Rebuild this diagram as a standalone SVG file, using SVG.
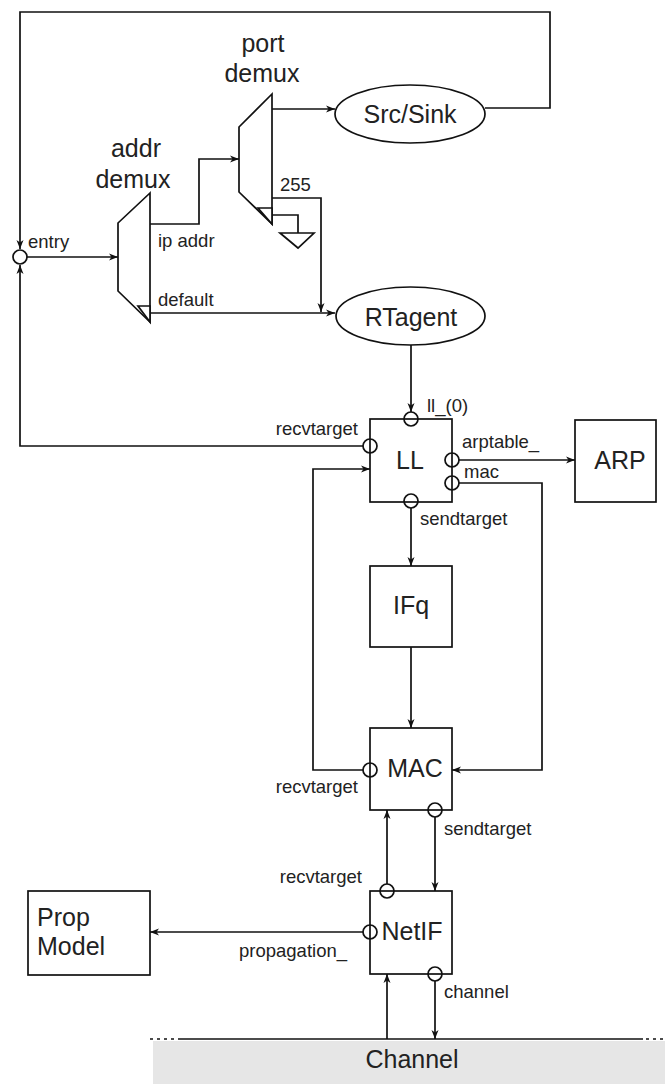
<svg xmlns="http://www.w3.org/2000/svg" width="665" height="1084" viewBox="0 0 665 1084">
<style>
.ln{fill:none;stroke:#111;stroke-width:1.7}
.box{fill:#fff;stroke:#111;stroke-width:1.7}
.port{fill:none;stroke:#111;stroke-width:1.7}
.big{font-family:"Liberation Sans",Arial,sans-serif;font-size:25px;fill:#222}
.sm{font-family:"Liberation Sans",Arial,sans-serif;font-size:18.5px;fill:#222}
.c{text-anchor:middle}
.r{text-anchor:end}
</style>
<defs>
<marker id="ah" markerUnits="userSpaceOnUse" markerWidth="10" markerHeight="8" refX="9" refY="4" orient="auto">
<path d="M0,0.5 L9,4 L0,7.5 L2.5,4 Z" fill="#111"/>
</marker>
</defs>
<rect width="665" height="1084" fill="#fff"/>

<g id="channel">
<rect x="153" y="1041" width="512" height="43" fill="#e6e6e6"/>
<line x1="178" y1="1039" x2="643" y2="1039" class="ln"/>
<line x1="150" y1="1039" x2="176" y2="1039" class="ln" stroke-dasharray="3,4"/>
<line x1="646" y1="1039" x2="665" y2="1039" class="ln" stroke-dasharray="3,4"/>
<text x="412" y="1068" class="big c">Channel</text>
</g>

<g id="connectors">
<path class="ln" d="M485,108 H550 V12 H20 V249" marker-end="url(#ah)"/>
<path class="ln" d="M27,257 H118" marker-end="url(#ah)"/>
<path class="ln" d="M363,446 H20 V265" marker-end="url(#ah)"/>
<path class="ln" d="M150,224 H199 V159 H239" marker-end="url(#ah)"/>
<path class="ln" d="M150,313 H335" marker-end="url(#ah)"/>
<path class="ln" d="M272,109 H335" marker-end="url(#ah)"/>
<path class="ln" d="M272,198 H321 V312" marker-end="url(#ah)"/>
<path class="ln" d="M272,215 H298 V233"/>
<path class="ln" d="M411,345 V412" marker-end="url(#ah)"/>
<path class="ln" d="M411,508 V566" marker-end="url(#ah)"/>
<path class="ln" d="M411,647 V728" marker-end="url(#ah)"/>
<path class="ln" d="M363,770 H313 V469 H370" marker-end="url(#ah)"/>
<path class="ln" d="M459,460 H575" marker-end="url(#ah)"/>
<path class="ln" d="M459,483 H542 V770 H452" marker-end="url(#ah)"/>
<path class="ln" d="M387,884 V810" marker-end="url(#ah)"/>
<path class="ln" d="M435,817 V891" marker-end="url(#ah)"/>
<path class="ln" d="M363,932 H150" marker-end="url(#ah)"/>
<path class="ln" d="M387,1039 V974" marker-end="url(#ah)"/>
<path class="ln" d="M435,981 V1039" marker-end="url(#ah)"/>
</g>

<g id="entry">
<circle cx="20" cy="257" r="7" class="port" fill="#fff"/>
<text x="28" y="248" class="sm">entry</text>
</g>

<g id="addr-demux">
<polygon class="box" points="150,193 118,223 118,291 150,322"/>
<polygon class="box" points="138,306 150,306 150,322"/>
<text x="136" y="157" class="big c">addr</text>
<text x="133" y="188" class="big c">demux</text>
<text x="158" y="247" class="sm">ip addr</text>
<text x="158" y="306" class="sm">default</text>
</g>

<g id="port-demux">
<polygon class="box" points="272,94 239,127 239,192 272,224"/>
<polygon class="box" points="258,208 272,208 272,224"/>
<text x="263" y="52" class="big c">port</text>
<text x="262" y="82" class="big c">demux</text>
<text x="280" y="191" class="sm">255</text>
</g>

<g id="null-sink">
<polygon class="box" points="280,233 314,233 298,248"/>
</g>

<g id="src-sink">
<ellipse cx="410" cy="114" rx="75" ry="29" class="box"/>
<text x="410" y="123" class="big c">Src/Sink</text>
</g>

<g id="rtagent">
<ellipse cx="410.5" cy="316" rx="74.5" ry="29" class="box"/>
<text x="411" y="326" class="big c">RTagent</text>
</g>

<g id="ll">
<rect x="370" y="419" width="82" height="83" class="box"/>
<text x="410" y="469" class="big c">LL</text>
<circle cx="411" cy="419" r="7" class="port"/>
<circle cx="370" cy="446" r="7" class="port"/>
<circle cx="452" cy="460" r="7" class="port"/>
<circle cx="452" cy="483" r="7" class="port"/>
<circle cx="411" cy="501" r="7" class="port"/>
<text x="427" y="412" class="sm">ll_(0)</text>
<text x="358" y="435" class="sm r">recvtarget</text>
<text x="462" y="448" class="sm">arptable_</text>
<text x="464" y="478" class="sm">mac</text>
<text x="420" y="525" class="sm">sendtarget</text>
</g>

<g id="arp">
<rect x="575" y="420" width="81" height="82" class="box"/>
<text x="620" y="469" class="big c">ARP</text>
</g>

<g id="ifq">
<rect x="370" y="566" width="82" height="81" class="box"/>
<text x="411" y="614" class="big c">IFq</text>
</g>

<g id="mac">
<rect x="370" y="728" width="82" height="82" class="box"/>
<text x="415" y="777" class="big c">MAC</text>
<circle cx="370" cy="770" r="7" class="port"/>
<circle cx="435" cy="810" r="7" class="port"/>
<text x="358" y="793" class="sm r">recvtarget</text>
<text x="444" y="835" class="sm">sendtarget</text>
</g>

<g id="netif">
<rect x="370" y="891" width="82" height="83" class="box"/>
<text x="412" y="940" class="big c">NetIF</text>
<circle cx="387" cy="891" r="7" class="port"/>
<circle cx="370" cy="932" r="7" class="port"/>
<circle cx="435" cy="974" r="7" class="port"/>
<text x="362" y="883" class="sm r">recvtarget</text>
<text x="239" y="957" class="sm">propagation_</text>
<text x="444" y="998" class="sm">channel</text>
</g>

<g id="prop-model">
<rect x="28" y="891" width="122" height="84" class="box"/>
<text x="37" y="926" class="big">Prop</text>
<text x="37" y="955" class="big">Model</text>
</g>
</svg>
